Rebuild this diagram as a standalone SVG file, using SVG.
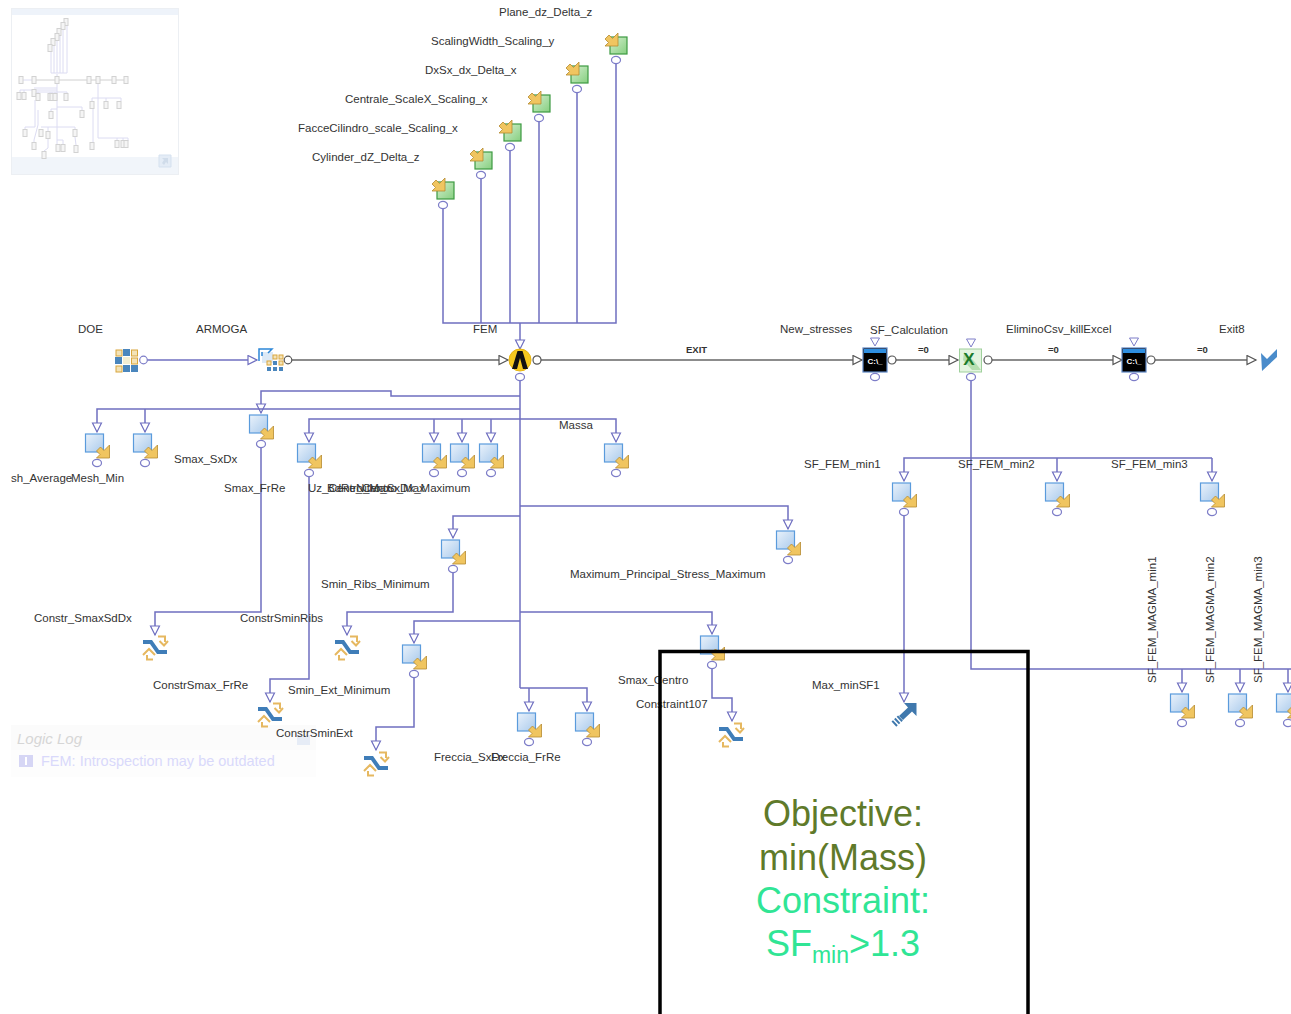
<svg xmlns="http://www.w3.org/2000/svg" width="1291" height="1014" viewBox="0 0 1291 1014">
<defs>
<linearGradient id="bl" x1="0" y1="0" x2="1" y2="1"><stop offset="0" stop-color="#eaf2fb"/><stop offset="1" stop-color="#a9caec"/></linearGradient>
<linearGradient id="gr" x1="0" y1="0" x2="1" y2="1"><stop offset="0" stop-color="#d5efcf"/><stop offset="1" stop-color="#86cf80"/></linearGradient>
<marker id="tb" markerWidth="12" markerHeight="12" refX="10.500" refY="5.500" orient="auto" markerUnits="userSpaceOnUse"><path d="M1.500 1L10.500 5.500L1.500 10Z" fill="#fff" stroke="#6f6fc0" stroke-width="1.200"/></marker>
<marker id="tk" markerWidth="12" markerHeight="12" refX="10.500" refY="5.500" orient="auto" markerUnits="userSpaceOnUse"><path d="M1.500 1L10.500 5.500L1.500 10Z" fill="#fff" stroke="#555" stroke-width="1.200"/></marker>
<path id="ar" d="M15 2V15H2L5.500 11.500L2 8L6 4L9.500 7.500Z" fill="#f0c560" stroke="#b58a30" stroke-width=".8"/>
<g id="task"><rect x="-9" y="-9" width="18" height="18" fill="url(#bl)" stroke="#5a9bdc" stroke-width="1.200"/><use href="#ar"/><ellipse cx="2.500" cy="20" rx="4.500" ry="3.600" fill="#fff" stroke="#7d7dc8" stroke-width="1.200"/></g>
<g id="var"><rect x="-8" y="-8" width="17" height="17" fill="url(#gr)" stroke="#3d9a42" stroke-width="1.200"/><use href="#ar" transform="translate(-15 -14)"/><ellipse cx="-2" cy="15" rx="4.500" ry="3.600" fill="#fff" stroke="#7d7dc8" stroke-width="1.200"/></g>
<g id="con"><path d="M-12 -8H-3L4 2H12V6H2L-5 -4H-12Z" fill="#3f7db8"/><path d="M3 -11.500H10V-6M4.500 -7L9 -2.500L13 -7M-12 7L-6 1L0 7M-8 7V11.500H-2" fill="none" stroke="#e6b860" stroke-width="2"/></g>
<g id="cmd"><rect x="-12" y="-12" width="24" height="24" fill="#000" stroke="#5d86c4" stroke-width="1.200"/><rect x="-11" y="-11" width="22" height="4" fill="#2e8ee0"/><text x="0" y="4" class="cm">C:\_</text><ellipse cx="17" cy="0" rx="4" ry="4" fill="#fff" stroke="#555" stroke-width="1.200"/><ellipse cx="0" cy="17" rx="4.500" ry="3.600" fill="#fff" stroke="#7d7dc8" stroke-width="1.200"/><path d="M-4.500 -22H4.500L0 -14Z" fill="#fff" stroke="#7d7dc8"/></g>
<rect id="m" x="-2" y="-3.500" width="4" height="7" fill="#f5f5f5" stroke="#d2d2d2"/>
</defs>
<style>
text{font-family:"Liberation Sans",Arial,sans-serif}
.l{font-size:11.500px;fill:#333}
.s{font-size:9.500px;fill:#333;font-weight:bold}
.cm{font-size:8px;fill:#fff;font-weight:bold;text-anchor:middle}
.b{fill:none;stroke:#6f6fc0;stroke-width:1.500}
.k{fill:none;stroke:#666;stroke-width:1.500}
.pb{fill:#fff;stroke:#7d7dc8;stroke-width:1.200}
.pk{fill:#fff;stroke:#555;stroke-width:1.200}
.mm{fill:none;stroke:#dcdcf2;stroke-width:1}
.big{font-size:36px;text-anchor:middle}
.go{fill:#f3e3b8;stroke:#d9a63c;stroke-width:1}
.bu{fill:#4a86bd}
</style>
<g id="overview">
<rect x="11.500" y="8.500" width="167" height="166" fill="#fff" stroke="#eceff3"/>
<rect x="12" y="9" width="166" height="6" fill="#eef3fa"/>
<rect x="12" y="157" width="166" height="17" fill="#f1f5fa"/>
<path d="M159 155h12v12h-12z" fill="#e4ecf6" stroke="#d5e1ef"/>
<path d="M162 158h6v6l-2-2-2 3-2-2 2-3z" fill="#d0dcea"/>
<path class="mm" d="M51 73V50M54 73V44M57 73V39M60 73V34M63 73V28M67 73V24M51 73H67"/>
<path class="mm" d="M23 80H32M57 74V76"/>
<path d="M36 80H87M91 80H96M100 80H112M116 80H124" fill="none" stroke="#d0d0d0" stroke-width="1"/>
<path class="mm" d="M57 84V145M20 90H57M20 90V93M24 90V93M34 88H57M34 92H67V93M38 92V93M50 92V93M52 92V93M55 92V93M57 107H82V110M51 109H57M51 109V111M41 127H75V129M35 100V127H25V129M38 110V125L34 140V142M48 127V131M48 139V148L44 151M57 140H63V144M75 137L76 145M98 84V138H128V141M92 98H121V101M106 98V101M92 98V101M93 109V142M117 138V140M123 138V140"/>
<g>
<use href="#m" x="21" y="80"/><use href="#m" x="34" y="80"/><use href="#m" x="57" y="80"/><use href="#m" x="89" y="80"/><use href="#m" x="98" y="80"/><use href="#m" x="114" y="80"/><use href="#m" x="126" y="80"/>
<use href="#m" x="66" y="22"/><use href="#m" x="63" y="26"/><use href="#m" x="59" y="32"/><use href="#m" x="57" y="37"/><use href="#m" x="53" y="42"/><use href="#m" x="50" y="48"/>
<use href="#m" x="19" y="96"/><use href="#m" x="24" y="96"/><use href="#m" x="34" y="93"/><use href="#m" x="38" y="97"/><use href="#m" x="50" y="97"/><use href="#m" x="52" y="97"/><use href="#m" x="55" y="97"/><use href="#m" x="66" y="97"/>
<use href="#m" x="92" y="105"/><use href="#m" x="106" y="105"/><use href="#m" x="119" y="105"/>
<use href="#m" x="51" y="115"/><use href="#m" x="82" y="114"/>
<use href="#m" x="25" y="133"/><use href="#m" x="41" y="133"/><use href="#m" x="48" y="135"/><use href="#m" x="75" y="133"/>
<use href="#m" x="34" y="146"/><use href="#m" x="44" y="155"/><use href="#m" x="58" y="148"/><use href="#m" x="63" y="148"/><use href="#m" x="76" y="149"/><use href="#m" x="92" y="146"/><use href="#m" x="117" y="144"/><use href="#m" x="123" y="144"/><use href="#m" x="126" y="144"/>
</g>
</g>
<g id="logiclog">
<rect x="11" y="725" width="305" height="52" fill="#fbfbfb"/>
<rect x="11" y="750" width="305" height="27" fill="#fdfdfd"/>
<rect x="297" y="735" width="13" height="10" fill="#e6ecf6"/>
<text x="17" y="744" style="font-size:15px;font-style:italic;fill:#d6d6d6">Logic Log</text>
<rect x="19" y="755" width="14" height="12" fill="#d6d6f5"/><rect x="25" y="757" width="2" height="8" fill="#fff"/>
<text x="41" y="766" style="font-size:14.500px;fill:#d9d9fb">FEM: Introspection may be outdated</text>
</g>
<g id="connectors">
<path class="b" d="M443 208V323H616V64M481 323V179M510 323V151M539 323V122M577 323V93"/>
<path class="b" d="M520 323V349" marker-end="url(#tb)"/>
<path class="b" d="M147 360H257" marker-end="url(#tb)"/>
<path class="k" d="M292 360H508" marker-end="url(#tk)"/>
<path class="k" d="M541 360H862" marker-end="url(#tk)"/>
<path class="k" d="M896 360H958" marker-end="url(#tk)"/>
<path class="k" d="M992 360H1122" marker-end="url(#tk)"/>
<path class="k" d="M1155 360H1256" marker-end="url(#tk)"/>
<path class="b" d="M520 381V688"/>
<path class="b" d="M520 396H391V391H261V413" marker-end="url(#tb)"/>
<path class="b" d="M520 409H97V432" marker-end="url(#tb)"/>
<path class="b" d="M145 409V432" marker-end="url(#tb)"/>
<path class="b" d="M520 419H309V442" marker-end="url(#tb)"/>
<path class="b" d="M434 419V442" marker-end="url(#tb)"/>
<path class="b" d="M462 419V442" marker-end="url(#tb)"/>
<path class="b" d="M491 419V442" marker-end="url(#tb)"/>
<path class="b" d="M520 419H616V442" marker-end="url(#tb)"/>
<path class="b" d="M520 506H788V529" marker-end="url(#tb)"/>
<path class="b" d="M520 516H453V538" marker-end="url(#tb)"/>
<path class="b" d="M520 612H712V634" marker-end="url(#tb)"/>
<path class="b" d="M520 621H414V643" marker-end="url(#tb)"/>
<path class="b" d="M520 688H587V711" marker-end="url(#tb)"/>
<path class="b" d="M529 688V711" marker-end="url(#tb)"/>
<path class="b" d="M261 448V612H155V635" marker-end="url(#tb)"/>
<path class="b" d="M453 573V612H347V635" marker-end="url(#tb)"/>
<path class="b" d="M309 477V679H270V702" marker-end="url(#tb)"/>
<path class="b" d="M414 678V727H376V750" marker-end="url(#tb)"/>
<path class="b" d="M712 669V698H732V721" marker-end="url(#tb)"/>
<path class="b" d="M904 516V702" marker-end="url(#tb)"/>
<path class="b" d="M1212 458H904V481" marker-end="url(#tb)"/>
<path class="b" d="M1057 458V481" marker-end="url(#tb)"/>
<path class="b" d="M1212 458V481" marker-end="url(#tb)"/>
<path class="b" d="M971 381V669H1291"/>
<path class="b" d="M1182 669V692" marker-end="url(#tb)"/>
<path class="b" d="M1240 669V692" marker-end="url(#tb)"/>
<path class="b" d="M1288 669V692" marker-end="url(#tb)"/>
</g>
<g id="doe">
<rect class="go" x="116" y="350" width="6" height="6"/><rect class="bu" x="123" y="349" width="7" height="7"/><rect class="go" x="131.500" y="350" width="6" height="6"/>
<rect class="bu" x="115" y="357" width="7" height="7"/><rect x="123" y="357" width="7" height="7" fill="#f4eed2"/><rect class="go" x="131.500" y="358" width="6" height="6"/>
<rect class="go" x="116" y="366" width="6" height="6"/><rect class="bu" x="123" y="365" width="7" height="7"/><rect class="bu" x="131" y="365" width="7" height="7"/>
<ellipse class="pb" cx="143.500" cy="360" rx="3.800" ry="3.800"/>
</g>
<g id="armoga">
<rect x="262" y="352" width="11" height="11" fill="#dce9f6"/>
<path d="M259 361V349H272L268 353M262 356V352" fill="none" stroke="#2c87d8" stroke-width="1.500"/>
<rect class="go" x="273" y="355" width="4" height="4"/><rect class="go" x="279" y="355" width="4" height="4"/>
<rect class="bu" x="273" y="361" width="4" height="4"/><rect class="go" x="279" y="361" width="4" height="4"/>
<rect class="go" x="267" y="361" width="4" height="4"/><rect class="bu" x="267" y="367" width="4" height="4"/>
<rect class="bu" x="273" y="367" width="4" height="4"/><rect class="bu" x="279" y="367" width="4" height="4"/>
<ellipse class="pk" cx="288" cy="360" rx="3.800" ry="3.800"/>
</g>
<g id="fem"><circle cx="520" cy="360" r="11" fill="#f6c91f" stroke="#e7b514"/><path d="M512 369L517.500 351H522.500L528 369H523L520 358L517 369Z" fill="#111"/><ellipse class="pk" cx="537" cy="360" rx="4" ry="4.200"/><ellipse class="pb" cx="520" cy="377" rx="4.500" ry="3.600"/></g>
<g id="vars">
<use href="#var" transform="translate(445 190)"/>
<use href="#var" transform="translate(483 160)"/>
<use href="#var" transform="translate(512 132)"/>
<use href="#var" transform="translate(541 103)"/>
<use href="#var" transform="translate(579 74)"/>
<use href="#var" transform="translate(618 45)"/>
</g>
<g id="tasks">
<use href="#task" transform="translate(94.500 443)"/>
<use href="#task" transform="translate(142.500 443)"/>
<use href="#task" transform="translate(258.500 424)"/>
<use href="#task" transform="translate(306.500 453)"/>
<use href="#task" transform="translate(431.500 453)"/>
<use href="#task" transform="translate(459.500 453)"/>
<use href="#task" transform="translate(488.500 453)"/>
<use href="#task" transform="translate(613.500 453)"/>
<use href="#task" transform="translate(785.500 540)"/>
<use href="#task" transform="translate(450.500 549)"/>
<use href="#task" transform="translate(709.500 645)"/>
<use href="#task" transform="translate(411.500 654)"/>
<use href="#task" transform="translate(526.500 722)"/>
<use href="#task" transform="translate(584.500 722)"/>
<use href="#task" transform="translate(901.500 492)"/>
<use href="#task" transform="translate(1054.500 492)"/>
<use href="#task" transform="translate(1209.500 492)"/>
<use href="#task" transform="translate(1179.500 703)"/>
<use href="#task" transform="translate(1237.500 703)"/>
<use href="#task" transform="translate(1285.500 703)"/>
</g>
<g id="constraints">
<use href="#con" transform="translate(155 648)"/>
<use href="#con" transform="translate(347 648)"/>
<use href="#con" transform="translate(270 715)"/>
<use href="#con" transform="translate(376 764)"/>
<use href="#con" transform="translate(731 735)"/>
</g>
<g id="cmds">
<use href="#cmd" transform="translate(875 360)"/>
<use href="#cmd" transform="translate(1134 360)"/>
</g>
<g id="excel"><path d="M966.500 339H975.500L971 347Z" fill="#fff" stroke="#7d7dc8"/><rect x="959.500" y="349" width="22" height="23" fill="#e4f4e0" stroke="#9fd09c"/><path d="M964 352L974 361L981 370H972L963 360Z" fill="#b6dfb0"/><text x="969" y="365" style="font-size:17px;font-weight:bold;fill:#1c7a2b;text-anchor:middle">X</text><ellipse class="pk" cx="988" cy="360" rx="4" ry="4"/><ellipse class="pb" cx="971" cy="377" rx="4.500" ry="3.600"/></g>
<g id="exit8"><path d="M1261 353L1267 359L1277 349V357L1262 371Z" fill="#4a8ccb"/></g>
<g id="max"><path d="M904 703H916.500V716L912 711.500L903 720L899 716L908 707.500Z" fill="#3f78ad"/><path d="M900.500 718L893.500 724.500" stroke="#3f78ad" stroke-width="7" stroke-dasharray="2 1.500" fill="none"/></g>
<g id="labels">
<text class="l" x="499" y="16">Plane_dz_Delta_z</text>
<text class="l" x="431" y="45">ScalingWidth_Scaling_y</text>
<text class="l" x="425" y="74">DxSx_dx_Delta_x</text>
<text class="l" x="345" y="103">Centrale_ScaleX_Scaling_x</text>
<text class="l" x="298" y="132">FacceCilindro_scale_Scaling_x</text>
<text class="l" x="312" y="161">Cylinder_dZ_Delta_z</text>
<text class="l" x="78" y="333">DOE</text>
<text class="l" x="196" y="333">ARMOGA</text>
<text class="l" x="473" y="333">FEM</text>
<text class="l" x="780" y="333">New_stresses</text>
<text class="l" x="870" y="334">SF_Calculation</text>
<text class="l" x="1006" y="333">EliminoCsv_killExcel</text>
<text class="l" x="1219" y="333">Exit8</text>
<text class="s" x="686" y="353">EXIT</text>
<text class="s" x="918" y="353">=0</text>
<text class="s" x="1048" y="353">=0</text>
<text class="s" x="1197" y="353">=0</text>
<text class="l" x="559" y="429">Massa</text>
<text class="l" x="174" y="463">Smax_SxDx</text>
<text class="l" x="11" y="482">sh_Average</text>
<text class="l" x="71" y="482">Mesh_Min</text>
<text class="l" x="224" y="492">Smax_FrRe</text>
<text class="l" x="308" y="492">Uz_Centro_Max</text>
<text class="l" x="327" y="492">BdRe_Centro_Max</text>
<text class="l" x="356" y="492">Nitro_SxDx_Maximum</text>
<text class="l" x="804" y="468">SF_FEM_min1</text>
<text class="l" x="958" y="468">SF_FEM_min2</text>
<text class="l" x="1111" y="468">SF_FEM_min3</text>
<text class="l" x="570" y="578">Maximum_Principal_Stress_Maximum</text>
<text class="l" x="321" y="588">Smin_Ribs_Minimum</text>
<text class="l" x="34" y="622">Constr_SmaxSdDx</text>
<text class="l" x="240" y="622">ConstrSminRibs</text>
<text class="l" x="153" y="689">ConstrSmax_FrRe</text>
<text class="l" x="288" y="694">Smin_Ext_Minimum</text>
<text class="l" x="276" y="737">ConstrSminExt</text>
<text class="l" x="618" y="684">Smax_Centro</text>
<text class="l" x="636" y="708">Constraint107</text>
<text class="l" x="812" y="689">Max_minSF1</text>
<text class="l" x="434" y="761">Freccia_SxDx</text>
<text class="l" x="491" y="761">Freccia_FrRe</text>
<text class="l" transform="translate(1156 683) rotate(-90)">SF_FEM_MAGMA_min1</text>
<text class="l" transform="translate(1213.500 683) rotate(-90)">SF_FEM_MAGMA_min2</text>
<text class="l" transform="translate(1262 683) rotate(-90)">SF_FEM_MAGMA_min3</text>
</g>
<g id="note">
<rect x="660" y="651.500" width="368" height="380" fill="none" stroke="#000" stroke-width="3.500"/>
<text class="big" x="843" y="826" fill="#5f7a2a">Objective:</text>
<text class="big" x="843" y="870" fill="#5f7a2a">min(Mass)</text>
<text class="big" x="843" y="913" fill="#30e595">Constraint:</text>
<text class="big" x="843" y="956" fill="#30e595">SF<tspan font-size="23" dy="7">min</tspan><tspan dy="-7">&gt;1.3</tspan></text>
</g>
</svg>
